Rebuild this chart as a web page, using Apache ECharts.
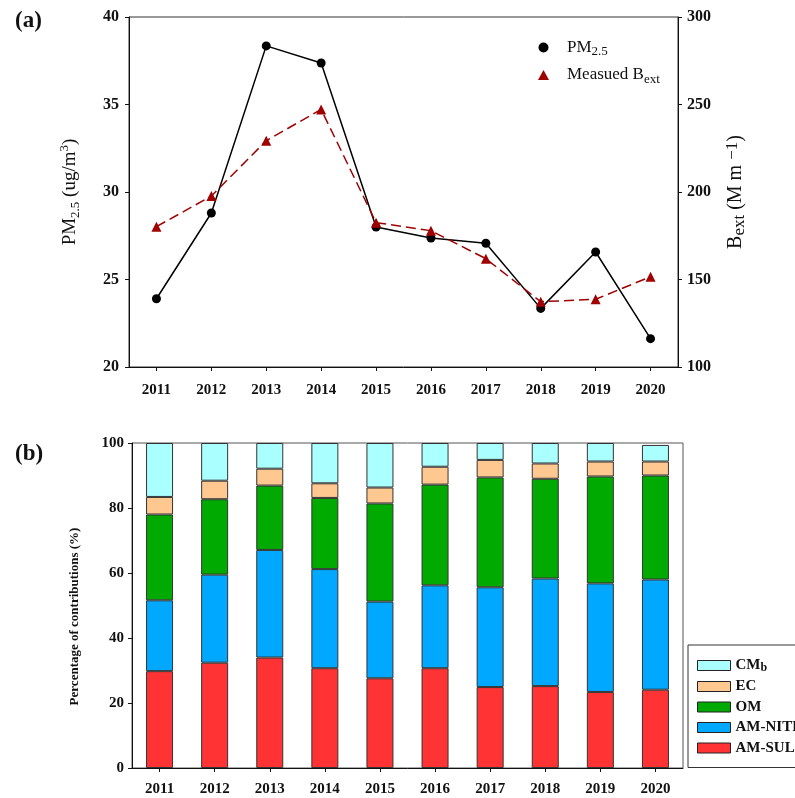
<!DOCTYPE html>
<html>
<head>
<meta charset="utf-8">
<script src="https://cdn.jsdelivr.net/npm/echarts@6/dist/echarts.min.js"></script>
<style>
  html, body { margin: 0; padding: 0; background: #fff; }
  #chart { width: 795px; height: 798px; }
</style>
</head>
<body>
<div id="chart"></div>
<script>
// Years on both panels
const years = ['2011', '2012', '2013', '2014', '2015', '2016', '2017', '2018', '2019', '2020'];

// Panel (a): annual PM2.5 (ug/m3) and measured light extinction (Mm-1)
const pm25 = [23.9, 28.8, 38.35, 37.37, 28.0, 27.37, 27.07, 23.35, 26.57, 21.62];
const bext = [180.2, 197.7, 229.3, 247.2, 182.5, 177.9, 161.9, 137.3, 138.7, 151.6];

// Panel (b): percentage contribution of each component to extinction
const amSul = [29.8, 32.4, 34.0, 30.7, 27.6, 30.7, 24.9, 25.2, 23.4, 24.1];
const amNit = [21.8, 27.1, 33.1, 30.5, 23.6, 25.5, 30.7, 33.1, 33.4, 33.9];
const om    = [26.4, 23.2, 19.8, 21.9, 30.2, 31.0, 33.8, 30.7, 32.9, 32.0];
const ec    = [5.4, 5.7, 5.2, 4.5, 4.9, 5.5, 5.4, 4.7, 4.6, 4.3];
const cmb   = [16.6, 11.6, 7.9, 12.4, 13.7, 7.3, 5.2, 6.3, 5.7, 5.1];

// Axis ranges [min, max, interval]
const pmRange = [20, 40, 5];
const bextRange = [100, 300, 50];
const pctRange = [0, 100, 20];

const SERIF = '"Liberation Serif", "DejaVu Serif", serif';
const INK = '#111';

const tickLabel = { fontFamily: SERIF, fontWeight: 'bold', fontSize: 15, color: INK };
const axisLine = { show: true, lineStyle: { color: INK, width: 1 } };
const axisTick = { show: true, length: 4, lineStyle: { color: INK, width: 1 } };

const chart = echarts.init(document.getElementById('chart'), null, { renderer: 'canvas' });

const legendNames = {
  'PM2.5': '{a|PM}{s|2.5}',
  'Measued Bext': '{a|Measued B}{s|ext}',
  'CMb': '{a|CM}{s|b}'
};

chart.setOption({
  backgroundColor: '#fff',
  animation: false,
  grid: [
    { left: 129, top: 17, width: 549, height: 350, show: true, borderColor: '#333', borderWidth: 1, backgroundColor: 'transparent' },
    { left: 132, top: 443, width: 551, height: 325, show: true, borderColor: '#555', borderWidth: 1, backgroundColor: 'transparent' }
  ],
  graphic: [
    { type: 'text', left: 15, top: 10, style: { text: '(a)', font: 'bold 23px ' + SERIF, fill: INK } },
    { type: 'text', left: 15, top: 443, style: { text: '(b)', font: 'bold 23px ' + SERIF, fill: INK } }
  ],
  legend: [
    {
      data: [{ name: 'PM2.5', icon: 'circle' }, { name: 'Measued Bext', icon: 'triangle' }],
      orient: 'vertical',
      left: 533,
      top: 34,
      itemWidth: 11,
      itemHeight: 10,
      itemGap: 8,
      selectedMode: false,
      formatter: n => legendNames[n] || n,
      textStyle: {
        padding: [0, 0, 0, 13],
        rich: {
          a: { fontFamily: SERIF, fontSize: 17, color: INK, lineHeight: 22 },
          s: { fontFamily: SERIF, fontSize: 13, color: INK, lineHeight: 12, verticalAlign: 'bottom' }
        }
      }
    },
    {
      data: ['CMb', 'EC', 'OM', 'AM-NITRATE', 'AM-SULFATE'],
      orient: 'vertical',
      left: 688,
      top: 645,
      padding: [13, 12, 12, 9],
      itemWidth: 33,
      itemHeight: 10,
      itemGap: 5.5,
      icon: 'rect',
      selectedMode: false,
      borderColor: '#333',
      borderWidth: 1,
      backgroundColor: '#fff',
      itemStyle: { borderColor: '#222', borderWidth: 1 },
      formatter: n => legendNames[n] || ('{a|' + n + '}'),
      textStyle: {
        rich: {
          a: { fontFamily: SERIF, fontWeight: 'bold', fontSize: 15, color: INK, lineHeight: 16 },
          s: { fontFamily: SERIF, fontWeight: 'bold', fontSize: 12, color: INK, lineHeight: 10, verticalAlign: 'bottom' }
        }
      }
    }
  ],
  xAxis: [
    {
      type: 'category', gridIndex: 0, data: years, boundaryGap: true,
      axisLine, axisTick: Object.assign({ alignWithLabel: true }, axisTick),
      axisLabel: Object.assign({ margin: 16 }, tickLabel),
      splitLine: { show: false }
    },
    {
      type: 'category', gridIndex: 1, data: years, boundaryGap: true,
      axisLine, axisTick: Object.assign({ alignWithLabel: true }, axisTick),
      axisLabel: Object.assign({ margin: 14 }, tickLabel),
      splitLine: { show: false }
    }
  ],
  yAxis: [
    {
      type: 'value', gridIndex: 0, position: 'left',
      min: pmRange[0], max: pmRange[1], interval: pmRange[2],
      axisLine, axisTick,
      axisLabel: Object.assign({ margin: 10 }, tickLabel, { fontSize: 16 }),
      splitLine: { show: false },
      name: '{a|PM}{s|2.5}{a| (ug/m}{p|3}{a|)}',
      nameLocation: 'middle',
      nameGap: 47,
      nameTextStyle: {
        rich: {
          a: { fontFamily: SERIF, fontSize: 19, color: INK, lineHeight: 24 },
          s: { fontFamily: SERIF, fontSize: 13, color: INK, lineHeight: 13, verticalAlign: 'bottom' },
          p: { fontFamily: SERIF, fontSize: 13, color: INK, lineHeight: 13, verticalAlign: 'top' }
        }
      }
    },
    {
      type: 'value', gridIndex: 0, position: 'right',
      min: bextRange[0], max: bextRange[1], interval: bextRange[2],
      axisLine, axisTick,
      axisLabel: Object.assign({ margin: 9 }, tickLabel, { fontSize: 16 }),
      splitLine: { show: false },
      name: '{a|B}{s|ext}{a| (M m }{p|\u22121}{a|)}',
      nameLocation: 'middle',
      nameGap: 46,
      nameTextStyle: {
        rich: {
          a: { fontFamily: SERIF, fontSize: 20, color: INK, lineHeight: 24 },
          s: { fontFamily: SERIF, fontSize: 17, color: INK, lineHeight: 14, verticalAlign: 'bottom' },
          p: { fontFamily: SERIF, fontSize: 17, color: INK, lineHeight: 14, verticalAlign: 'top' }
        }
      }
    },
    {
      type: 'value', gridIndex: 1, position: 'left',
      min: pctRange[0], max: pctRange[1], interval: pctRange[2],
      axisLine, axisTick,
      axisLabel: Object.assign({ margin: 8 }, tickLabel),
      splitLine: { show: false },
      name: 'Percentage of contributions (%)',
      nameLocation: 'middle',
      nameGap: 51,
      nameTextStyle: { fontFamily: SERIF, fontWeight: 'bold', fontSize: 13, color: INK, padding: [0, 22, 0, 0] }
    }
  ],
  series: [
    {
      name: 'PM2.5', type: 'line', xAxisIndex: 0, yAxisIndex: 0, data: pm25,
      symbol: 'circle', symbolSize: 9,
      lineStyle: { color: '#000', width: 1.5 },
      itemStyle: { color: '#000' },
      z: 2
    },
    {
      name: 'Measued Bext', type: 'line', xAxisIndex: 0, yAxisIndex: 1, data: bext,
      symbol: 'triangle', symbolSize: 10,
      lineStyle: { color: '#a00000', width: 1.5, type: [10, 5] },
      itemStyle: { color: '#a00000' },
      z: 3
    },
    {
      name: 'AM-SULFATE', type: 'bar', xAxisIndex: 1, yAxisIndex: 2, stack: 'ext', data: amSul,
      barWidth: 27, itemStyle: { color: '#ff3333', borderColor: '#333', borderWidth: 1 }
    },
    {
      name: 'AM-NITRATE', type: 'bar', xAxisIndex: 1, yAxisIndex: 2, stack: 'ext', data: amNit,
      barWidth: 27, itemStyle: { color: '#00a8ff', borderColor: '#333', borderWidth: 1 }
    },
    {
      name: 'OM', type: 'bar', xAxisIndex: 1, yAxisIndex: 2, stack: 'ext', data: om,
      barWidth: 27, itemStyle: { color: '#00aa00', borderColor: '#333', borderWidth: 1 }
    },
    {
      name: 'EC', type: 'bar', xAxisIndex: 1, yAxisIndex: 2, stack: 'ext', data: ec,
      barWidth: 27, itemStyle: { color: '#ffc891', borderColor: '#333', borderWidth: 1 }
    },
    {
      name: 'CMb', type: 'bar', xAxisIndex: 1, yAxisIndex: 2, stack: 'ext', data: cmb,
      barWidth: 27, itemStyle: { color: '#aaffff', borderColor: '#333', borderWidth: 1 }
    }
  ]
});
</script>
</body>
</html>
